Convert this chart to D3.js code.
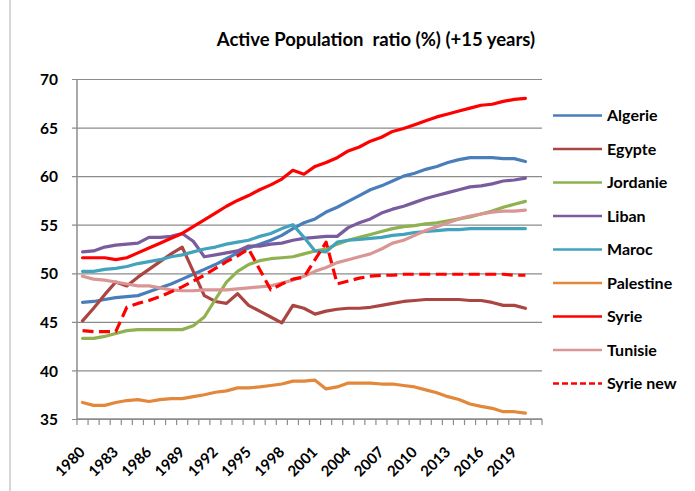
<!DOCTYPE html>
<html>
<head>
<meta charset="utf-8">
<script src="https://cdnjs.cloudflare.com/ajax/libs/d3/7.8.5/d3.min.js"></script>
<style>
  body { margin: 0; background: #fff; }
  svg { display: block; font-family: Lato, "Open Sans", sans-serif; font-weight: bold; }
</style>
</head>
<body>
<div id="chart"></div>
<script>
const TITLE = "Active Population  ratio (%) (+15 years)";
const years = d3.range(1980, 2022);          // 42 categories, data up to 2020
const yTicks = [35, 40, 45, 50, 55, 60, 65, 70];

const algerie   = [47.0,47.1,47.3,47.5,47.6,47.7,48.1,48.5,48.9,49.4,49.9,50.4,50.9,51.5,52.1,52.6,53.0,53.4,53.9,54.6,55.2,55.6,56.3,56.8,57.4,58.0,58.6,59.0,59.5,60.0,60.3,60.7,61.0,61.4,61.7,61.9,61.9,61.9,61.8,61.8,61.5];
const egypte    = [45.1,46.4,47.8,49.1,48.7,49.6,50.4,51.2,52.0,52.7,50.2,47.7,47.1,46.9,47.9,46.7,46.1,45.5,44.9,46.7,46.4,45.8,46.1,46.3,46.4,46.4,46.5,46.7,46.9,47.1,47.2,47.3,47.3,47.3,47.3,47.2,47.2,47.0,46.7,46.7,46.4];
const jordanie  = [43.3,43.3,43.5,43.8,44.1,44.2,44.2,44.2,44.2,44.2,44.6,45.5,47.3,49.1,50.2,50.9,51.3,51.5,51.6,51.7,52.0,52.3,52.5,53.0,53.4,53.7,54.0,54.3,54.6,54.8,54.9,55.1,55.2,55.4,55.6,55.8,56.1,56.4,56.8,57.1,57.4];
const liban     = [52.2,52.3,52.7,52.9,53.0,53.1,53.7,53.7,53.8,54.1,53.3,51.7,51.9,52.1,52.3,52.8,52.8,53.0,53.1,53.4,53.6,53.7,53.8,53.8,54.7,55.2,55.6,56.2,56.6,56.9,57.3,57.7,58.0,58.3,58.6,58.9,59.0,59.2,59.5,59.6,59.8];
const maroc     = [50.2,50.2,50.4,50.5,50.7,51.0,51.2,51.4,51.7,51.9,52.2,52.5,52.7,53.0,53.2,53.4,53.8,54.1,54.6,55.0,53.7,52.3,52.2,53.2,53.4,53.5,53.6,53.7,53.9,54.0,54.2,54.3,54.4,54.5,54.5,54.6,54.6,54.6,54.6,54.6,54.6];
const palestine = [36.7,36.4,36.4,36.7,36.9,37.0,36.8,37.0,37.1,37.1,37.3,37.5,37.75,37.9,38.2,38.2,38.3,38.45,38.6,38.9,38.9,39.0,38.1,38.3,38.7,38.7,38.7,38.6,38.6,38.45,38.3,38.0,37.7,37.3,37.0,36.55,36.3,36.1,35.75,35.75,35.6];
const syrie     = [51.6,51.6,51.6,51.4,51.6,52.1,52.6,53.1,53.6,54.1,54.8,55.5,56.2,56.9,57.5,58.0,58.6,59.1,59.7,60.6,60.2,61.0,61.4,61.9,62.6,63.0,63.6,64.0,64.6,64.9,65.3,65.7,66.1,66.4,66.7,67.0,67.3,67.4,67.7,67.9,68.0];
const tunisie   = [49.7,49.4,49.3,49.1,48.9,48.7,48.7,48.5,48.3,48.2,48.2,48.3,48.3,48.3,48.4,48.5,48.6,48.7,49.0,49.3,49.7,50.2,50.6,51.1,51.4,51.7,52.0,52.5,53.1,53.4,53.9,54.4,54.8,55.2,55.6,55.9,56.1,56.3,56.4,56.4,56.5];
const syrieNew  = [44.1,44.0,44.0,44.0,46.5,46.9,47.2,47.6,48.1,48.6,49.2,49.8,50.5,51.2,51.8,52.5,50.4,48.3,48.9,49.4,49.6,51.4,53.2,48.9,49.2,49.5,49.7,49.8,49.8,49.9,49.9,49.9,49.9,49.9,49.9,49.9,49.9,49.9,49.9,49.8,49.8];

const names = ["Algerie", "Egypte", "Jordanie", "Liban", "Maroc", "Palestine", "Syrie", "Tunisie", "Syrie new"];

const WIDTH = 695;
const HEIGHT = 491;
const PLOT = {left: 77, right: 542, top: 79, bottom: 419};
const GRID_COLOR = "#8c8c8c";
const LINE_WIDTH = 3.2;

const series = [
  {name: names[0], values: algerie,   color: "#4a7ebb", dashed: false},
  {name: names[1], values: egypte,    color: "#ab4542", dashed: false},
  {name: names[2], values: jordanie,  color: "#8fb150", dashed: false},
  {name: names[3], values: liban,     color: "#7a5c9e", dashed: false},
  {name: names[4], values: maroc,     color: "#43a2bc", dashed: false},
  {name: names[5], values: palestine, color: "#e3873b", dashed: false},
  {name: names[6], values: syrie,     color: "#ff0000", dashed: false},
  {name: names[7], values: tunisie,   color: "#d99694", dashed: false},
  {name: names[8], values: syrieNew,  color: "#ff0000", dashed: true}
];

const svg = d3.select("#chart")
  .append("svg")
  .attr("width", WIDTH)
  .attr("height", HEIGHT);

// chart area border (left edge is visible)
svg.append("line")
  .attr("x1", 10).attr("x2", 10)
  .attr("y1", 0).attr("y2", HEIGHT)
  .attr("stroke", "#c8c8c8")
  .attr("stroke-width", 1.5);

// title
svg.append("text")
  .attr("x", 376)
  .attr("y", 46)
  .attr("text-anchor", "middle")
  .style("font-size", "18.5px")
  .style("white-space", "pre")
  .attr("xml:space", "preserve")
  .text(TITLE);

// scales
const xScale = d3.scaleBand()
  .domain(years)
  .range([PLOT.left, PLOT.right])
  .padding(0);
const yScale = d3.scaleLinear()
  .domain([35, 70])
  .range([PLOT.bottom, PLOT.top]);
const xMid = (year) => xScale(year) + xScale.bandwidth() / 2;

// y axis with gridlines
const yAxis = d3.axisLeft(yScale)
  .tickValues(yTicks)
  .tickSize(-(PLOT.right - PLOT.left))
  .tickSizeOuter(0)
  .tickPadding(0);
const yG = svg.append("g")
  .attr("transform", "translate(" + PLOT.left + ",0)")
  .call(yAxis);
yG.select(".domain").remove();
yG.selectAll(".tick line")
  .attr("x1", -5)
  .attr("stroke", GRID_COLOR)
  .attr("stroke-width", 1.2);
yG.selectAll(".tick text")
  .attr("x", -19)
  .attr("dy", "0.36em")
  .style("font-size", "15.5px")
  .style("font-family", "Lato, sans-serif")
  .attr("fill", "#000");

svg.append("line")
  .attr("x1", PLOT.left).attr("x2", PLOT.left)
  .attr("y1", PLOT.top).attr("y2", PLOT.bottom)
  .attr("stroke", GRID_COLOR)
  .attr("stroke-width", 1.5);

// x axis: ticks between categories, labels every 3 years
const xG = svg.append("g")
  .attr("transform", "translate(0," + PLOT.bottom + ")");
xG.append("line")
  .attr("x1", PLOT.left).attr("x2", PLOT.right)
  .attr("stroke", GRID_COLOR)
  .attr("stroke-width", 1.5);
xG.selectAll("line.tick")
  .data(years.concat([years[years.length - 1] + 1]))
  .enter()
  .append("line")
  .attr("class", "tick")
  .attr("x1", (d) => d <= years[years.length - 1] ? xScale(d) : PLOT.right)
  .attr("x2", (d) => d <= years[years.length - 1] ? xScale(d) : PLOT.right)
  .attr("y1", 0)
  .attr("y2", 6)
  .attr("stroke", GRID_COLOR)
  .attr("stroke-width", 1.2);
xG.selectAll("text")
  .data(years.filter((d) => (d - 1980) % 3 === 0))
  .enter()
  .append("text")
  .attr("transform", (d) => "translate(" + (xMid(d) + 3.5) + ",34) rotate(-45)")
  .attr("text-anchor", "end")
  .style("font-size", "15px")
  .text((d) => d);

// lines
const line = d3.line()
  .x((d, i) => xMid(years[i]))
  .y((d) => yScale(d));

svg.append("g")
  .selectAll("path")
  .data(series)
  .enter()
  .append("path")
  .attr("d", (d) => line(d.values))
  .attr("fill", "none")
  .attr("stroke", (d) => d.color)
  .attr("stroke-width", LINE_WIDTH)
  .attr("stroke-linejoin", "round")
  .attr("stroke-linecap", (d) => d.dashed ? "butt" : "round")
  .attr("stroke-dasharray", (d) => d.dashed ? "11,5.5" : null);

// legend
const legend = svg.append("g")
  .attr("transform", "translate(553,115.5)");
const items = legend.selectAll("g")
  .data(series)
  .enter()
  .append("g")
  .attr("transform", (d, i) => "translate(0," + (i * 33.5) + ")");
items.append("line")
  .attr("x1", 0).attr("x2", 49)
  .attr("stroke", (d) => d.color)
  .attr("stroke-width", 2.5)
  .attr("stroke-dasharray", (d) => d.dashed ? "6,3" : null);
items.append("text")
  .attr("x", 54)
  .attr("dy", "0.36em")
  .style("font-size", "16px")
  .text((d) => d.name);
</script>
</body>
</html>
